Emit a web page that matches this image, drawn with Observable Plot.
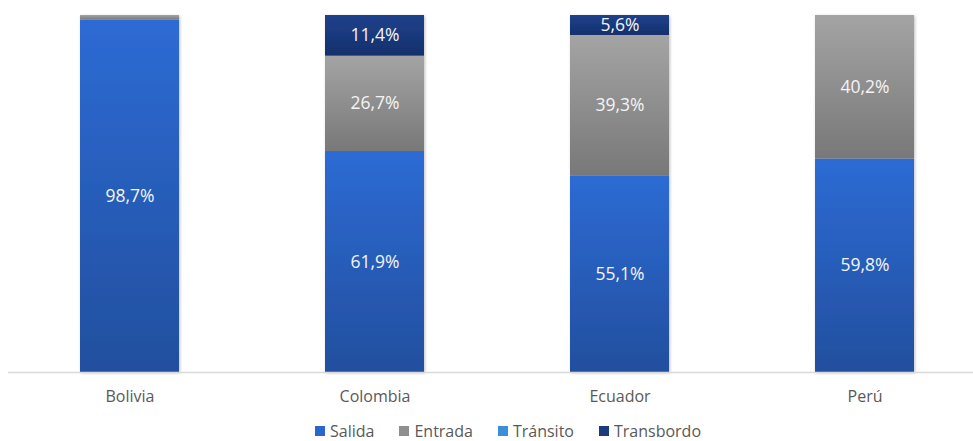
<!DOCTYPE html>
<html><head><meta charset="utf-8">
<script src="https://cdn.jsdelivr.net/npm/d3@7"></script>
<script src="https://cdn.jsdelivr.net/npm/@observablehq/plot@0.6"></script>
<style>
body{margin:0;background:#fff;font-family:"Open Sans",sans-serif;}
#wrap{position:relative;width:973px;height:441px;overflow:hidden;}
.legend{position:absolute;left:315px;top:422px;display:flex;gap:25px;font-size:16px;color:#595959;line-height:18px;white-space:nowrap;}
.legend .it{display:flex;align-items:center;}
.legend .sw{display:inline-block;width:10px;height:10px;margin-right:5px;}
</style></head><body>
<div id="wrap"></div>
<script>
const paises = ["Bolivia", "Colombia", "Ecuador", "Perú"];
const series = ["Salida", "Entrada", "Tránsito", "Transbordo"];
const salida = [98.7, 61.9, 55.1, 59.8];
const entrada = [1.3, 26.7, 39.3, 40.2];
const transito = [0, 0, 0, 0];
const transbordo = [0, 11.4, 5.6, 0];
const valores = [salida, entrada, transito, transbordo];

const swatch = ["#2c66cc", "#8f8f8f", "#3b8ed8", "#1b3a80"];
const gradTop = ["#2d6bd4", "#a4a4a4", "#4196dc", "#1f418c"];
const gradBot = ["#224f9e", "#787878", "#2f6fb0", "#14306c"];

const data = [];
paises.forEach((p, i) => series.forEach((s, j) => data.push({pais: p, serie: s, valor: valores[j][i]})));

const fmt = v => v.toFixed(1).replace(".", ",") + "%";

const chart = Plot.plot({
  width: 973,
  height: 418,
  marginTop: 15,
  marginBottom: 46,
  marginLeft: 8,
  marginRight: 0,
  style: {fontFamily: "'Open Sans', sans-serif", background: "#fff"},
  x: {domain: paises, range: [7, 987], paddingInner: 0.596, paddingOuter: 0.298, label: null, tickSize: 0, tickPadding: 18},
  y: {domain: [0, 100], axis: null},
  color: {domain: series, range: series.map((s, j) => `url(#g${j})`)},
  marks: [
    Plot.barY(data, {x: "pais", y: "valor", fill: "serie", z: "serie", inset: 0}),
    Plot.ruleY([0], {stroke: "#d9d9d9", strokeWidth: 1.5}),
    Plot.text(data, Plot.stackY({x: "pais", y: "valor", z: "serie",
      text: d => d.valor > 3 ? fmt(d.valor) : "",
      fill: "#f4f4f4", fontSize: 17.5}))
  ]
});

const ns = "http://www.w3.org/2000/svg";
const defs = document.createElementNS(ns, "defs");
series.forEach((s, j) => {
  const lg = document.createElementNS(ns, "linearGradient");
  lg.setAttribute("id", "g" + j);
  lg.setAttribute("x1", "0"); lg.setAttribute("y1", "0");
  lg.setAttribute("x2", "0"); lg.setAttribute("y2", "1");
  [[0, gradTop[j]], [1, gradBot[j]]].forEach(([o, c]) => {
    const st = document.createElementNS(ns, "stop");
    st.setAttribute("offset", o);
    st.setAttribute("stop-color", c);
    lg.appendChild(st);
  });
  defs.appendChild(lg);
});
const flt = document.createElementNS(ns, "filter");
flt.setAttribute("id", "shadow");
flt.setAttribute("x", "-10%"); flt.setAttribute("y", "-10%");
flt.setAttribute("width", "130%"); flt.setAttribute("height", "130%");
const ds = document.createElementNS(ns, "feDropShadow");
ds.setAttribute("dx", "1"); ds.setAttribute("dy", "1");
ds.setAttribute("stdDeviation", "1.5");
ds.setAttribute("flood-color", "#000");
ds.setAttribute("flood-opacity", "0.25");
flt.appendChild(ds);
defs.appendChild(flt);
chart.insertBefore(defs, chart.firstChild);
const barG = chart.querySelector('g[aria-label="bar"]');
if (barG) barG.setAttribute("filter", "url(#shadow)");
chart.querySelectorAll('g[aria-label="x-axis tick label"] text, g[aria-label="x-axis"] text').forEach(t => {
  t.setAttribute("fill", "#595959");
  t.style.fontSize = "16px";
});

const wrap = document.getElementById("wrap");
wrap.appendChild(chart);

const legend = document.createElement("div");
legend.className = "legend";
series.forEach((s, j) => {
  const it = document.createElement("span");
  it.className = "it";
  it.innerHTML = `<span class="sw" style="background:${swatch[j]}"></span>${s}`;
  legend.appendChild(it);
});
wrap.appendChild(legend);
</script>
</body></html>
